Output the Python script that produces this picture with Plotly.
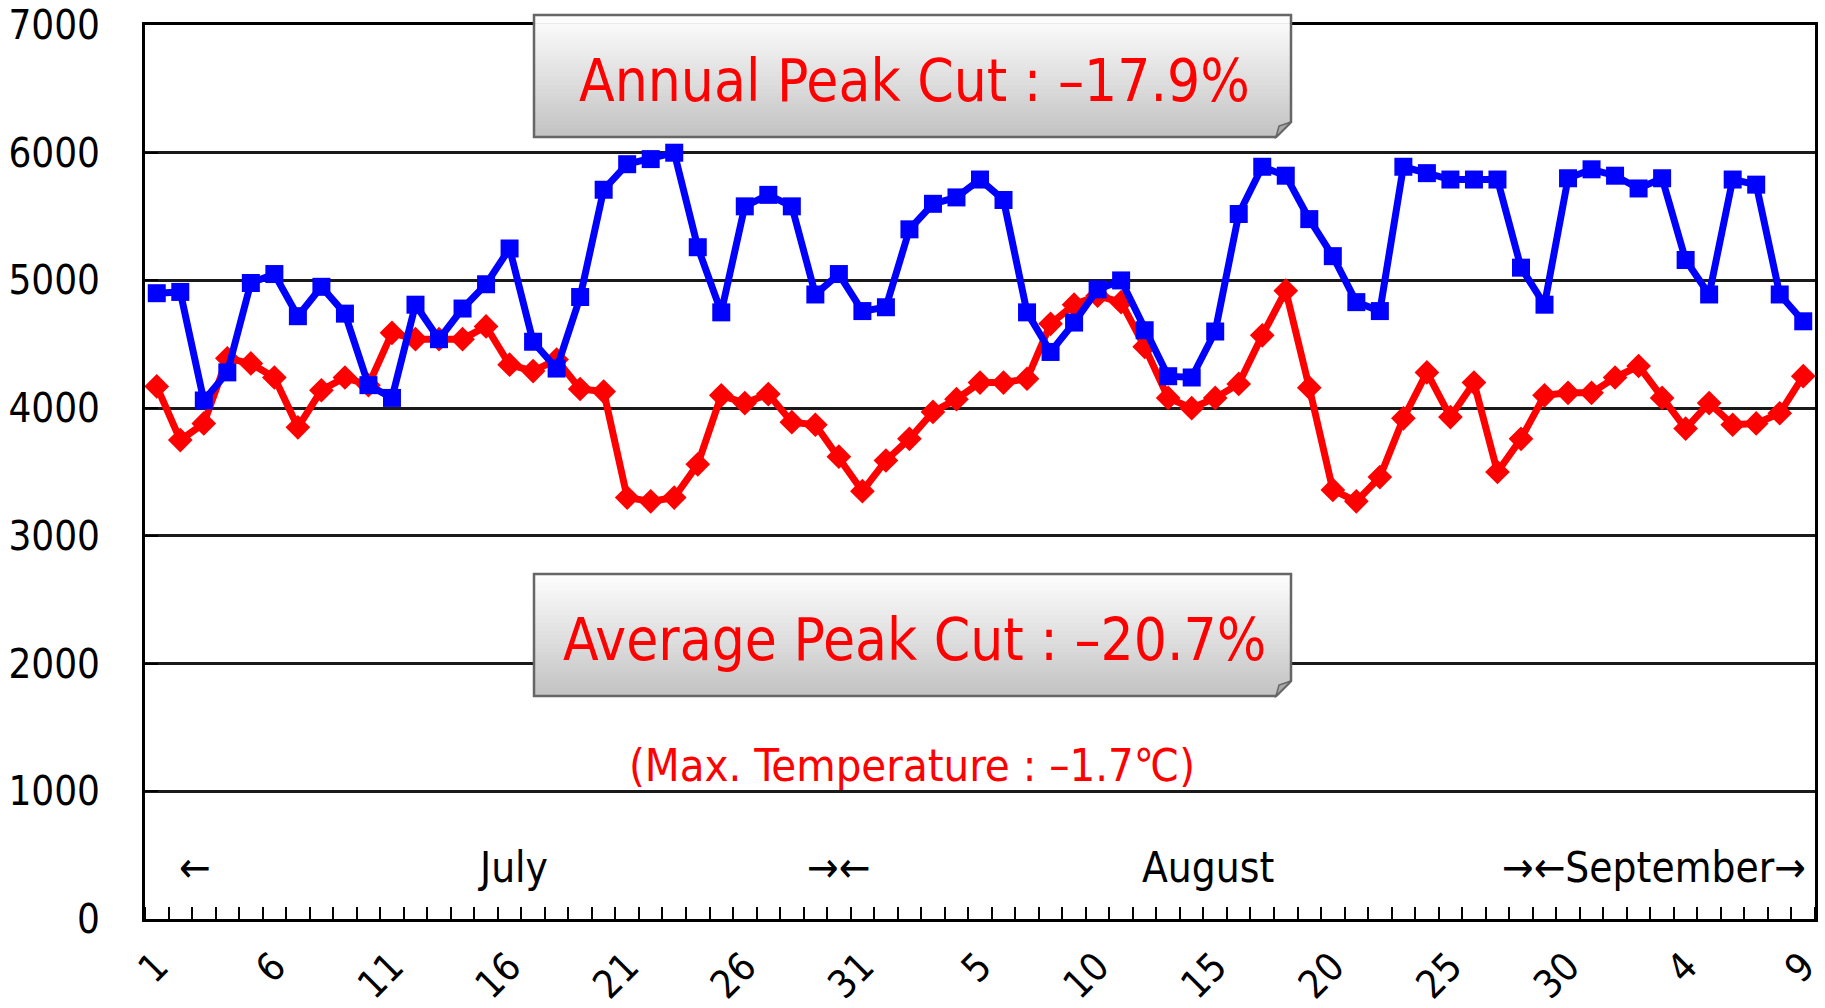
import plotly.graph_objects as go

# ---------------- data ----------------
days = list(range(1, 72))  # Jul 1 .. Sep 9 (71 days)
tick_positions = [1, 6, 11, 16, 21, 26, 31, 36, 41, 46, 51, 56, 61, 66, 71]
tick_labels = ["1", "6", "11", "16", "21", "26", "31", "5", "10", "15", "20", "25", "30", "4", "9"]

annual_peak = [4900, 4910, 4060, 4280, 4980, 5050, 4720, 4950, 4740, 4180,
               4080, 4810, 4540, 4780, 4970, 5250, 4520, 4310, 4870, 5710,
               5910, 5950, 6000, 5260, 4750, 5580, 5670, 5580, 4890, 5050, 4760,
               4790, 5400, 5600, 5650, 5790, 5630, 4750, 4440, 4670, 4930,
               5000, 4610, 4250, 4240, 4600, 5520, 5890, 5820, 5480, 5190,
               4830, 4760, 5890, 5840, 5790, 5790, 5790, 5100, 4810, 5800, 5870,
               5820, 5720, 5800, 5160, 4890, 5790, 5750, 4890, 4680]

daily_peak = [4170, 3750, 3880, 4390, 4350, 4240, 3850, 4140, 4240, 4180,
              4590, 4540, 4540, 4540, 4640, 4340, 4290, 4380, 4150, 4130,
              3300, 3270, 3300, 3560, 4100, 4040, 4110, 3890, 3870, 3620, 3350,
              3590, 3760, 3970, 4070, 4200, 4200, 4230, 4660, 4810, 4880,
              4830, 4480, 4080, 4000, 4080, 4190, 4570, 4920, 4160, 3360,
              3270, 3460, 3920, 4280, 3930, 4200, 3500, 3760, 4100, 4120, 4120,
              4240, 4330, 4080, 3840, 4040, 3870, 3880, 3960, 4250]

annual_text = "Annual Peak Cut : –17.9%"
average_text = "Average Peak Cut : –20.7%"
temp_text = "(Max. Temperature : –1.7℃)"

# ---------------- layout geometry ----------------
W, H = 1825, 1008
L, R, T, B = 145, 10, 25, 89
PW, PH = W - L - R, H - T - B
FONT = "DejaVu Sans Condensed, DejaVu Sans, sans-serif"


def xp(px):
    return (px - L) / PW


def yp(py):
    return (H - B - py) / PH


fig = go.Figure()
fig.add_trace(go.Scatter(
    x=days, y=daily_peak, mode="lines+markers",
    line=dict(color="#ff0000", width=7),
    marker=dict(symbol="diamond", size=19, color="#ff0000"),
    showlegend=False))
fig.add_trace(go.Scatter(
    x=days, y=annual_peak, mode="lines+markers",
    line=dict(color="#0000ff", width=7),
    marker=dict(symbol="square", size=18, color="#0000ff"),
    showlegend=False))

shapes = []


def add_box(left, top, right, bottom):
    n = 30
    fold = 15
    for i in range(n):
        t0 = top + (bottom - top) * i / n
        t1 = top + (bottom - top) * (i + 1) / n + 0.6
        f = i / (n - 1)
        c = int(253 - f * (253 - 196))
        shapes.append(dict(type="rect", xref="paper", yref="paper",
                           x0=xp(left), x1=xp(right), y0=yp(t1), y1=yp(t0),
                           line=dict(width=0), fillcolor=f"rgb({c},{c},{c})", layer="above"))
    # white corner cut
    shapes.append(dict(type="path", xref="paper", yref="paper",
                       path=f"M {xp(right+2)},{yp(bottom-fold)} L {xp(right+2)},{yp(bottom+2)} L {xp(right-fold)},{yp(bottom+2)} Z",
                       line=dict(width=0), fillcolor="white", layer="above"))
    # outline
    shapes.append(dict(type="path", xref="paper", yref="paper",
                       path=(f"M {xp(left)},{yp(top)} L {xp(right)},{yp(top)} L {xp(right)},{yp(bottom-fold)} "
                             f"L {xp(right-fold)},{yp(bottom)} L {xp(left)},{yp(bottom)} Z"),
                       line=dict(color="#666666", width=2.5), fillcolor="rgba(0,0,0,0)", layer="above"))
    # folded flap
    shapes.append(dict(type="path", xref="paper", yref="paper",
                       path=(f"M {xp(right)},{yp(bottom-fold)} L {xp(right-fold)},{yp(bottom)} "
                             f"L {xp(right-fold+3)},{yp(bottom-fold+4)} Z"),
                       line=dict(color="#666666", width=1.5), fillcolor="#a8a8a8", layer="above"))


add_box(534, 15, 1291, 137)
add_box(534, 574, 1291, 696)

annotations = [
    dict(x=xp(914), y=yp(81), text=annual_text, font=dict(size=58, color="#ff0000", family=FONT)),
    dict(x=xp(914), y=yp(640), text=average_text, font=dict(size=58, color="#ff0000", family=FONT)),
    dict(x=xp(912), y=yp(765), text=temp_text, font=dict(size=45, color="#ff0000", family=FONT)),
    dict(x=xp(195), y=yp(867), text="←", font=dict(size=42, color="black", family=FONT)),
    dict(x=xp(513), y=yp(867), text="July", font=dict(size=42, color="black", family=FONT)),
    dict(x=xp(838), y=yp(867), text="→←", font=dict(size=42, color="black", family=FONT)),
    dict(x=xp(1208), y=yp(867), text="August", font=dict(size=42, color="black", family=FONT)),
    dict(x=xp(1654), y=yp(867), text="→←September→", font=dict(size=42, color="black", family=FONT)),
]
for a in annotations:
    a.update(xref="paper", yref="paper", showarrow=False, xanchor="center", yanchor="middle")

fig.update_layout(
    width=W, height=H,
    margin=dict(l=L, r=R, t=T, b=B, autoexpand=False),
    paper_bgcolor="white", plot_bgcolor="white",
    font=dict(family=FONT, size=40, color="black"),
    shapes=shapes, annotations=annotations,
    showlegend=False,
)
fig.update_xaxes(
    range=[0.5, 71.5], tickmode="array", tickvals=tick_positions, ticktext=tick_labels,
    tickangle=-45, ticks="", showgrid=False, zeroline=False,
    showline=True, linecolor="black", linewidth=3, mirror=True,
    tickfont=dict(size=39, family=FONT, color="black"), ticklabelstandoff=6,
    minor=dict(ticks="inside", tickmode="linear", tick0=0.5, dtick=1, ticklen=12,
               tickwidth=2, tickcolor="black", showgrid=False),
)
fig.update_yaxes(
    range=[0, 7000], tickmode="linear", tick0=0, dtick=1000,
    ticks="inside", ticklen=13, tickwidth=2, tickcolor="black",
    showgrid=True, gridcolor="#1a1a1a", gridwidth=2.5, zeroline=False,
    showline=True, linecolor="black", linewidth=3, mirror=True,
    tickfont=dict(size=40, family=FONT, color="black"), ticklabelstandoff=34,
)

fig.write_html("out.html", config={"displayModeBar": False},
               post_script="document.body.style.margin='0px';document.body.style.overflow='hidden';")
